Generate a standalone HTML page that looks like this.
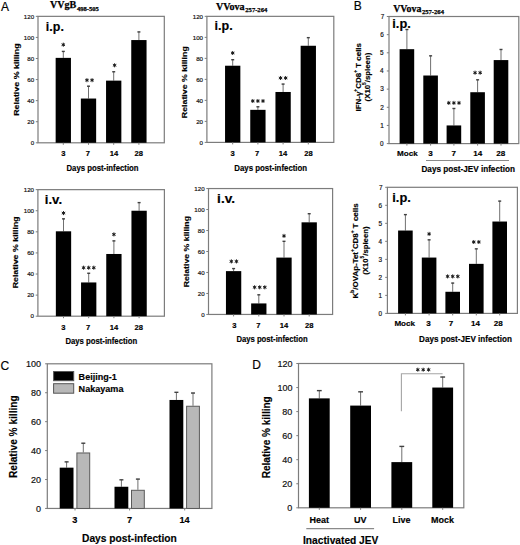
<!DOCTYPE html><html><head><meta charset="utf-8"><style>html,body{margin:0;padding:0;background:#fff;overflow:hidden;}svg{display:block;}</style></head><body><svg width="520" height="545" viewBox="0 0 520 545">
<rect width="520" height="545" fill="#fff"/>
<rect x="38.00" y="16.35" width="126.30" height="126.45" fill="none" stroke="#7c7c7c" stroke-width="1.2"/>
<line x1="35.80" y1="142.80" x2="38.00" y2="142.80" stroke="#7c7c7c" stroke-width="1"/>
<text x="30.71" y="145.02" font-size="6.2" font-weight="normal" fill="#111" font-family='"Liberation Sans", sans-serif' stroke="#111" stroke-width="0.18">0</text>
<line x1="35.80" y1="121.73" x2="38.00" y2="121.73" stroke="#7c7c7c" stroke-width="1"/>
<text x="27.27" y="123.94" font-size="6.2" font-weight="normal" fill="#111" font-family='"Liberation Sans", sans-serif' stroke="#111" stroke-width="0.18">20</text>
<line x1="35.80" y1="100.65" x2="38.00" y2="100.65" stroke="#7c7c7c" stroke-width="1"/>
<text x="27.27" y="102.87" font-size="6.2" font-weight="normal" fill="#111" font-family='"Liberation Sans", sans-serif' stroke="#111" stroke-width="0.18">40</text>
<line x1="35.80" y1="79.58" x2="38.00" y2="79.58" stroke="#7c7c7c" stroke-width="1"/>
<text x="27.27" y="81.79" font-size="6.2" font-weight="normal" fill="#111" font-family='"Liberation Sans", sans-serif' stroke="#111" stroke-width="0.18">60</text>
<line x1="35.80" y1="58.50" x2="38.00" y2="58.50" stroke="#7c7c7c" stroke-width="1"/>
<text x="27.27" y="60.72" font-size="6.2" font-weight="normal" fill="#111" font-family='"Liberation Sans", sans-serif' stroke="#111" stroke-width="0.18">80</text>
<line x1="35.80" y1="37.42" x2="38.00" y2="37.42" stroke="#7c7c7c" stroke-width="1"/>
<text x="23.82" y="39.64" font-size="6.2" font-weight="normal" fill="#111" font-family='"Liberation Sans", sans-serif' stroke="#111" stroke-width="0.18">100</text>
<line x1="35.80" y1="16.35" x2="38.00" y2="16.35" stroke="#7c7c7c" stroke-width="1"/>
<text x="23.82" y="18.57" font-size="6.2" font-weight="normal" fill="#111" font-family='"Liberation Sans", sans-serif' stroke="#111" stroke-width="0.18">120</text>
<line x1="63.30" y1="51.12" x2="63.30" y2="57.87" stroke="#707070" stroke-width="1.0"/>
<line x1="61.80" y1="51.42" x2="64.80" y2="51.42" stroke="#404040" stroke-width="1.4"/>
<rect x="55.65" y="57.87" width="15.30" height="84.93" fill="#000"/>
<path d="M63.30,43.08L63.30,46.32M61.90,43.89L64.70,45.51M61.90,45.51L64.70,43.89" stroke="#1e1e1e" stroke-width="1.0" stroke-linecap="round"/>
<circle cx="63.30" cy="44.70" r="0.99" fill="#1e1e1e"/>
<line x1="88.50" y1="85.90" x2="88.50" y2="98.54" stroke="#707070" stroke-width="1.0"/>
<line x1="87.00" y1="86.20" x2="90.00" y2="86.20" stroke="#404040" stroke-width="1.4"/>
<rect x="80.85" y="98.54" width="15.30" height="44.26" fill="#000"/>
<path d="M86.95,78.58L86.95,81.82M85.55,79.39L88.35,81.01M85.55,81.01L88.35,79.39" stroke="#1e1e1e" stroke-width="1.0" stroke-linecap="round"/>
<circle cx="86.95" cy="80.20" r="0.99" fill="#1e1e1e"/>
<path d="M92.05,78.58L92.05,81.82M90.65,79.39L93.45,81.01M90.65,81.01L93.45,79.39" stroke="#1e1e1e" stroke-width="1.0" stroke-linecap="round"/>
<circle cx="92.05" cy="80.20" r="0.99" fill="#1e1e1e"/>
<line x1="113.70" y1="71.46" x2="113.70" y2="80.63" stroke="#707070" stroke-width="1.0"/>
<line x1="112.20" y1="71.76" x2="115.20" y2="71.76" stroke="#404040" stroke-width="1.4"/>
<rect x="106.05" y="80.63" width="15.30" height="62.17" fill="#000"/>
<path d="M114.60,63.68L114.60,66.92M113.20,64.49L116.00,66.11M113.20,66.11L116.00,64.49" stroke="#1e1e1e" stroke-width="1.0" stroke-linecap="round"/>
<circle cx="114.60" cy="65.30" r="0.99" fill="#1e1e1e"/>
<line x1="138.90" y1="31.63" x2="138.90" y2="40.06" stroke="#707070" stroke-width="1.0"/>
<line x1="137.40" y1="31.93" x2="140.40" y2="31.93" stroke="#404040" stroke-width="1.4"/>
<rect x="131.25" y="40.06" width="15.30" height="102.74" fill="#000"/>
<line x1="63.30" y1="142.80" x2="63.30" y2="144.80" stroke="#7c7c7c" stroke-width="1"/>
<line x1="88.50" y1="142.80" x2="88.50" y2="144.80" stroke="#7c7c7c" stroke-width="1"/>
<line x1="113.70" y1="142.80" x2="113.70" y2="144.80" stroke="#7c7c7c" stroke-width="1"/>
<line x1="138.90" y1="142.80" x2="138.90" y2="144.80" stroke="#7c7c7c" stroke-width="1"/>
<text x="61.18" y="156.20" font-size="7.6" font-weight="bold" fill="#000" font-family='"Liberation Sans", sans-serif' stroke="#000" stroke-width="0.16">3</text>
<text x="85.85" y="156.20" font-size="7.6" font-weight="bold" fill="#000" font-family='"Liberation Sans", sans-serif' stroke="#000" stroke-width="0.16">7</text>
<text x="109.70" y="156.20" font-size="7.6" font-weight="bold" fill="#000" font-family='"Liberation Sans", sans-serif' stroke="#000" stroke-width="0.16">14</text>
<text x="134.46" y="156.20" font-size="7.6" font-weight="bold" fill="#000" font-family='"Liberation Sans", sans-serif' stroke="#000" stroke-width="0.16">28</text>
<text x="66.50" y="170.50" font-size="8.3" font-weight="bold" fill="#000" font-family='"Liberation Sans", sans-serif' textLength="72.06" lengthAdjust="spacingAndGlyphs" stroke="#000" stroke-width="0.16">Days post-infection</text>
<text x="0" y="0" transform="translate(19.00,115.78) rotate(-90)" font-size="8.0" font-weight="bold" font-family='"Liberation Sans", sans-serif' textLength="72.35" lengthAdjust="spacingAndGlyphs" stroke="#000" stroke-width="0.16">Relative % killing</text>
<text x="45.88" y="30.75" font-size="12.4" font-weight="bold" fill="#000" font-family='"Liberation Sans", sans-serif' textLength="17.98" lengthAdjust="spacingAndGlyphs" stroke="#000" stroke-width="0.16">i.p.</text>
<rect x="206.90" y="16.35" width="126.90" height="126.05" fill="none" stroke="#7c7c7c" stroke-width="1.2"/>
<line x1="204.70" y1="142.40" x2="206.90" y2="142.40" stroke="#7c7c7c" stroke-width="1"/>
<text x="199.61" y="144.62" font-size="6.2" font-weight="normal" fill="#111" font-family='"Liberation Sans", sans-serif' stroke="#111" stroke-width="0.18">0</text>
<line x1="204.70" y1="121.39" x2="206.90" y2="121.39" stroke="#7c7c7c" stroke-width="1"/>
<text x="196.17" y="123.61" font-size="6.2" font-weight="normal" fill="#111" font-family='"Liberation Sans", sans-serif' stroke="#111" stroke-width="0.18">20</text>
<line x1="204.70" y1="100.38" x2="206.90" y2="100.38" stroke="#7c7c7c" stroke-width="1"/>
<text x="196.17" y="102.60" font-size="6.2" font-weight="normal" fill="#111" font-family='"Liberation Sans", sans-serif' stroke="#111" stroke-width="0.18">40</text>
<line x1="204.70" y1="79.38" x2="206.90" y2="79.38" stroke="#7c7c7c" stroke-width="1"/>
<text x="196.17" y="81.59" font-size="6.2" font-weight="normal" fill="#111" font-family='"Liberation Sans", sans-serif' stroke="#111" stroke-width="0.18">60</text>
<line x1="204.70" y1="58.37" x2="206.90" y2="58.37" stroke="#7c7c7c" stroke-width="1"/>
<text x="196.17" y="60.59" font-size="6.2" font-weight="normal" fill="#111" font-family='"Liberation Sans", sans-serif' stroke="#111" stroke-width="0.18">80</text>
<line x1="204.70" y1="37.36" x2="206.90" y2="37.36" stroke="#7c7c7c" stroke-width="1"/>
<text x="192.72" y="39.58" font-size="6.2" font-weight="normal" fill="#111" font-family='"Liberation Sans", sans-serif' stroke="#111" stroke-width="0.18">100</text>
<line x1="204.70" y1="16.35" x2="206.90" y2="16.35" stroke="#7c7c7c" stroke-width="1"/>
<text x="192.72" y="18.57" font-size="6.2" font-weight="normal" fill="#111" font-family='"Liberation Sans", sans-serif' stroke="#111" stroke-width="0.18">120</text>
<line x1="232.70" y1="59.42" x2="232.70" y2="65.72" stroke="#707070" stroke-width="1.0"/>
<line x1="231.20" y1="59.72" x2="234.20" y2="59.72" stroke="#404040" stroke-width="1.4"/>
<rect x="225.05" y="65.72" width="15.30" height="76.68" fill="#000"/>
<path d="M232.70,51.38L232.70,54.62M231.30,52.19L234.10,53.81M231.30,53.81L234.10,52.19" stroke="#1e1e1e" stroke-width="1.0" stroke-linecap="round"/>
<circle cx="232.70" cy="53.00" r="0.99" fill="#1e1e1e"/>
<line x1="257.90" y1="106.48" x2="257.90" y2="109.84" stroke="#707070" stroke-width="1.0"/>
<line x1="256.40" y1="106.78" x2="259.40" y2="106.78" stroke="#404040" stroke-width="1.4"/>
<rect x="250.25" y="109.84" width="15.30" height="32.56" fill="#000"/>
<path d="M252.80,99.38L252.80,102.62M251.40,100.19L254.20,101.81M251.40,101.81L254.20,100.19" stroke="#1e1e1e" stroke-width="1.0" stroke-linecap="round"/>
<circle cx="252.80" cy="101.00" r="0.99" fill="#1e1e1e"/>
<path d="M257.90,99.38L257.90,102.62M256.50,100.19L259.30,101.81M256.50,101.81L259.30,100.19" stroke="#1e1e1e" stroke-width="1.0" stroke-linecap="round"/>
<circle cx="257.90" cy="101.00" r="0.99" fill="#1e1e1e"/>
<path d="M263.00,99.38L263.00,102.62M261.60,100.19L264.40,101.81M261.60,101.81L264.40,100.19" stroke="#1e1e1e" stroke-width="1.0" stroke-linecap="round"/>
<circle cx="263.00" cy="101.00" r="0.99" fill="#1e1e1e"/>
<line x1="283.10" y1="83.79" x2="283.10" y2="91.98" stroke="#707070" stroke-width="1.0"/>
<line x1="281.60" y1="84.09" x2="284.60" y2="84.09" stroke="#404040" stroke-width="1.4"/>
<rect x="275.45" y="91.98" width="15.30" height="50.42" fill="#000"/>
<path d="M280.55,76.38L280.55,79.62M279.15,77.19L281.95,78.81M279.15,78.81L281.95,77.19" stroke="#1e1e1e" stroke-width="1.0" stroke-linecap="round"/>
<circle cx="280.55" cy="78.00" r="0.99" fill="#1e1e1e"/>
<path d="M285.65,76.38L285.65,79.62M284.25,77.19L287.05,78.81M284.25,78.81L287.05,77.19" stroke="#1e1e1e" stroke-width="1.0" stroke-linecap="round"/>
<circle cx="285.65" cy="78.00" r="0.99" fill="#1e1e1e"/>
<line x1="308.30" y1="37.36" x2="308.30" y2="45.76" stroke="#707070" stroke-width="1.0"/>
<line x1="306.80" y1="37.66" x2="309.80" y2="37.66" stroke="#404040" stroke-width="1.4"/>
<rect x="300.65" y="45.76" width="15.30" height="96.64" fill="#000"/>
<line x1="232.70" y1="142.40" x2="232.70" y2="144.40" stroke="#7c7c7c" stroke-width="1"/>
<line x1="257.90" y1="142.40" x2="257.90" y2="144.40" stroke="#7c7c7c" stroke-width="1"/>
<line x1="283.10" y1="142.40" x2="283.10" y2="144.40" stroke="#7c7c7c" stroke-width="1"/>
<line x1="308.30" y1="142.40" x2="308.30" y2="144.40" stroke="#7c7c7c" stroke-width="1"/>
<text x="230.43" y="156.00" font-size="7.6" font-weight="bold" fill="#000" font-family='"Liberation Sans", sans-serif' stroke="#000" stroke-width="0.16">3</text>
<text x="255.10" y="156.00" font-size="7.6" font-weight="bold" fill="#000" font-family='"Liberation Sans", sans-serif' stroke="#000" stroke-width="0.16">7</text>
<text x="278.80" y="156.00" font-size="7.6" font-weight="bold" fill="#000" font-family='"Liberation Sans", sans-serif' stroke="#000" stroke-width="0.16">14</text>
<text x="304.26" y="156.00" font-size="7.6" font-weight="bold" fill="#000" font-family='"Liberation Sans", sans-serif' stroke="#000" stroke-width="0.16">28</text>
<text x="234.29" y="170.60" font-size="8.3" font-weight="bold" fill="#000" font-family='"Liberation Sans", sans-serif' textLength="72.87" lengthAdjust="spacingAndGlyphs" stroke="#000" stroke-width="0.16">Days post-infection</text>
<text x="0" y="0" transform="translate(186.60,118.17) rotate(-90)" font-size="8.0" font-weight="bold" font-family='"Liberation Sans", sans-serif' textLength="71.94" lengthAdjust="spacingAndGlyphs" stroke="#000" stroke-width="0.16">Relative % killing</text>
<text x="214.62" y="30.40" font-size="12.4" font-weight="bold" fill="#000" font-family='"Liberation Sans", sans-serif' textLength="18.15" lengthAdjust="spacingAndGlyphs" stroke="#000" stroke-width="0.16">i.p.</text>
<rect x="37.90" y="189.65" width="126.50" height="126.55" fill="none" stroke="#7c7c7c" stroke-width="1.2"/>
<line x1="35.70" y1="316.20" x2="37.90" y2="316.20" stroke="#7c7c7c" stroke-width="1"/>
<text x="30.61" y="318.42" font-size="6.2" font-weight="normal" fill="#111" font-family='"Liberation Sans", sans-serif' stroke="#111" stroke-width="0.18">0</text>
<line x1="35.70" y1="295.11" x2="37.90" y2="295.11" stroke="#7c7c7c" stroke-width="1"/>
<text x="27.17" y="297.33" font-size="6.2" font-weight="normal" fill="#111" font-family='"Liberation Sans", sans-serif' stroke="#111" stroke-width="0.18">20</text>
<line x1="35.70" y1="274.02" x2="37.90" y2="274.02" stroke="#7c7c7c" stroke-width="1"/>
<text x="27.17" y="276.24" font-size="6.2" font-weight="normal" fill="#111" font-family='"Liberation Sans", sans-serif' stroke="#111" stroke-width="0.18">40</text>
<line x1="35.70" y1="252.93" x2="37.90" y2="252.93" stroke="#7c7c7c" stroke-width="1"/>
<text x="27.17" y="255.14" font-size="6.2" font-weight="normal" fill="#111" font-family='"Liberation Sans", sans-serif' stroke="#111" stroke-width="0.18">60</text>
<line x1="35.70" y1="231.83" x2="37.90" y2="231.83" stroke="#7c7c7c" stroke-width="1"/>
<text x="27.17" y="234.05" font-size="6.2" font-weight="normal" fill="#111" font-family='"Liberation Sans", sans-serif' stroke="#111" stroke-width="0.18">80</text>
<line x1="35.70" y1="210.74" x2="37.90" y2="210.74" stroke="#7c7c7c" stroke-width="1"/>
<text x="23.72" y="212.96" font-size="6.2" font-weight="normal" fill="#111" font-family='"Liberation Sans", sans-serif' stroke="#111" stroke-width="0.18">100</text>
<line x1="35.70" y1="189.65" x2="37.90" y2="189.65" stroke="#7c7c7c" stroke-width="1"/>
<text x="23.72" y="191.87" font-size="6.2" font-weight="normal" fill="#111" font-family='"Liberation Sans", sans-serif' stroke="#111" stroke-width="0.18">120</text>
<line x1="63.50" y1="218.55" x2="63.50" y2="231.31" stroke="#707070" stroke-width="1.0"/>
<line x1="62.00" y1="218.85" x2="65.00" y2="218.85" stroke="#404040" stroke-width="1.4"/>
<rect x="55.85" y="231.31" width="15.30" height="84.89" fill="#000"/>
<path d="M63.50,211.48L63.50,214.72M62.10,212.29L64.90,213.91M62.10,213.91L64.90,212.29" stroke="#1e1e1e" stroke-width="1.0" stroke-linecap="round"/>
<circle cx="63.50" cy="213.10" r="0.99" fill="#1e1e1e"/>
<line x1="88.70" y1="272.96" x2="88.70" y2="282.45" stroke="#707070" stroke-width="1.0"/>
<line x1="87.20" y1="273.26" x2="90.20" y2="273.26" stroke="#404040" stroke-width="1.4"/>
<rect x="81.05" y="282.45" width="15.30" height="33.75" fill="#000"/>
<path d="M83.60,266.08L83.60,269.32M82.20,266.89L85.00,268.51M82.20,268.51L85.00,266.89" stroke="#1e1e1e" stroke-width="1.0" stroke-linecap="round"/>
<circle cx="83.60" cy="267.70" r="0.99" fill="#1e1e1e"/>
<path d="M88.70,266.08L88.70,269.32M87.30,266.89L90.10,268.51M87.30,268.51L90.10,266.89" stroke="#1e1e1e" stroke-width="1.0" stroke-linecap="round"/>
<circle cx="88.70" cy="267.70" r="0.99" fill="#1e1e1e"/>
<path d="M93.80,266.08L93.80,269.32M92.40,266.89L95.20,268.51M92.40,268.51L95.20,266.89" stroke="#1e1e1e" stroke-width="1.0" stroke-linecap="round"/>
<circle cx="93.80" cy="267.70" r="0.99" fill="#1e1e1e"/>
<line x1="113.90" y1="240.59" x2="113.90" y2="253.98" stroke="#707070" stroke-width="1.0"/>
<line x1="112.40" y1="240.89" x2="115.40" y2="240.89" stroke="#404040" stroke-width="1.4"/>
<rect x="106.25" y="253.98" width="15.30" height="62.22" fill="#000"/>
<path d="M113.90,232.78L113.90,236.02M112.50,233.59L115.30,235.21M112.50,235.21L115.30,233.59" stroke="#1e1e1e" stroke-width="1.0" stroke-linecap="round"/>
<circle cx="113.90" cy="234.40" r="0.99" fill="#1e1e1e"/>
<line x1="139.10" y1="202.31" x2="139.10" y2="210.74" stroke="#707070" stroke-width="1.0"/>
<line x1="137.60" y1="202.61" x2="140.60" y2="202.61" stroke="#404040" stroke-width="1.4"/>
<rect x="131.45" y="210.74" width="15.30" height="105.46" fill="#000"/>
<line x1="63.50" y1="316.20" x2="63.50" y2="318.20" stroke="#7c7c7c" stroke-width="1"/>
<line x1="88.70" y1="316.20" x2="88.70" y2="318.20" stroke="#7c7c7c" stroke-width="1"/>
<line x1="113.90" y1="316.20" x2="113.90" y2="318.20" stroke="#7c7c7c" stroke-width="1"/>
<line x1="139.10" y1="316.20" x2="139.10" y2="318.20" stroke="#7c7c7c" stroke-width="1"/>
<text x="61.33" y="329.60" font-size="7.6" font-weight="bold" fill="#000" font-family='"Liberation Sans", sans-serif' stroke="#000" stroke-width="0.16">3</text>
<text x="86.10" y="329.60" font-size="7.6" font-weight="bold" fill="#000" font-family='"Liberation Sans", sans-serif' stroke="#000" stroke-width="0.16">7</text>
<text x="109.75" y="329.60" font-size="7.6" font-weight="bold" fill="#000" font-family='"Liberation Sans", sans-serif' stroke="#000" stroke-width="0.16">14</text>
<text x="134.41" y="329.60" font-size="7.6" font-weight="bold" fill="#000" font-family='"Liberation Sans", sans-serif' stroke="#000" stroke-width="0.16">28</text>
<text x="65.40" y="344.20" font-size="8.3" font-weight="bold" fill="#000" font-family='"Liberation Sans", sans-serif' textLength="71.76" lengthAdjust="spacingAndGlyphs" stroke="#000" stroke-width="0.16">Days post-infection</text>
<text x="0" y="0" transform="translate(18.30,288.37) rotate(-90)" font-size="8.0" font-weight="bold" font-family='"Liberation Sans", sans-serif' textLength="72.14" lengthAdjust="spacingAndGlyphs" stroke="#000" stroke-width="0.16">Relative % killing</text>
<text x="44.83" y="203.50" font-size="12.4" font-weight="bold" fill="#000" font-family='"Liberation Sans", sans-serif' textLength="17.28" lengthAdjust="spacingAndGlyphs" stroke="#000" stroke-width="0.16">i.v.</text>
<rect x="208.50" y="188.55" width="124.10" height="125.90" fill="none" stroke="#7c7c7c" stroke-width="1.2"/>
<line x1="206.30" y1="314.45" x2="208.50" y2="314.45" stroke="#7c7c7c" stroke-width="1"/>
<text x="201.21" y="316.67" font-size="6.2" font-weight="normal" fill="#111" font-family='"Liberation Sans", sans-serif' stroke="#111" stroke-width="0.18">0</text>
<line x1="206.30" y1="293.47" x2="208.50" y2="293.47" stroke="#7c7c7c" stroke-width="1"/>
<text x="197.77" y="295.69" font-size="6.2" font-weight="normal" fill="#111" font-family='"Liberation Sans", sans-serif' stroke="#111" stroke-width="0.18">20</text>
<line x1="206.30" y1="272.48" x2="208.50" y2="272.48" stroke="#7c7c7c" stroke-width="1"/>
<text x="197.77" y="274.70" font-size="6.2" font-weight="normal" fill="#111" font-family='"Liberation Sans", sans-serif' stroke="#111" stroke-width="0.18">40</text>
<line x1="206.30" y1="251.50" x2="208.50" y2="251.50" stroke="#7c7c7c" stroke-width="1"/>
<text x="197.77" y="253.72" font-size="6.2" font-weight="normal" fill="#111" font-family='"Liberation Sans", sans-serif' stroke="#111" stroke-width="0.18">60</text>
<line x1="206.30" y1="230.52" x2="208.50" y2="230.52" stroke="#7c7c7c" stroke-width="1"/>
<text x="197.77" y="232.74" font-size="6.2" font-weight="normal" fill="#111" font-family='"Liberation Sans", sans-serif' stroke="#111" stroke-width="0.18">80</text>
<line x1="206.30" y1="209.53" x2="208.50" y2="209.53" stroke="#7c7c7c" stroke-width="1"/>
<text x="194.32" y="211.75" font-size="6.2" font-weight="normal" fill="#111" font-family='"Liberation Sans", sans-serif' stroke="#111" stroke-width="0.18">100</text>
<line x1="206.30" y1="188.55" x2="208.50" y2="188.55" stroke="#7c7c7c" stroke-width="1"/>
<text x="194.32" y="190.77" font-size="6.2" font-weight="normal" fill="#111" font-family='"Liberation Sans", sans-serif' stroke="#111" stroke-width="0.18">120</text>
<line x1="233.60" y1="268.29" x2="233.60" y2="271.12" stroke="#707070" stroke-width="1.0"/>
<line x1="232.10" y1="268.59" x2="235.10" y2="268.59" stroke="#404040" stroke-width="1.4"/>
<rect x="225.95" y="271.12" width="15.30" height="43.33" fill="#000"/>
<path d="M231.35,259.78L231.35,263.02M229.95,260.59L232.75,262.21M229.95,262.21L232.75,260.59" stroke="#1e1e1e" stroke-width="1.0" stroke-linecap="round"/>
<circle cx="231.35" cy="261.40" r="0.99" fill="#1e1e1e"/>
<path d="M236.45,259.78L236.45,263.02M235.05,260.59L237.85,262.21M235.05,262.21L237.85,260.59" stroke="#1e1e1e" stroke-width="1.0" stroke-linecap="round"/>
<circle cx="236.45" cy="261.40" r="0.99" fill="#1e1e1e"/>
<line x1="258.80" y1="294.52" x2="258.80" y2="303.43" stroke="#707070" stroke-width="1.0"/>
<line x1="257.30" y1="294.82" x2="260.30" y2="294.82" stroke="#404040" stroke-width="1.4"/>
<rect x="251.15" y="303.43" width="15.30" height="11.02" fill="#000"/>
<path d="M254.60,285.68L254.60,288.92M253.20,286.49L256.00,288.11M253.20,288.11L256.00,286.49" stroke="#1e1e1e" stroke-width="1.0" stroke-linecap="round"/>
<circle cx="254.60" cy="287.30" r="0.99" fill="#1e1e1e"/>
<path d="M259.70,285.68L259.70,288.92M258.30,286.49L261.10,288.11M258.30,288.11L261.10,286.49" stroke="#1e1e1e" stroke-width="1.0" stroke-linecap="round"/>
<circle cx="259.70" cy="287.30" r="0.99" fill="#1e1e1e"/>
<path d="M264.80,285.68L264.80,288.92M263.40,286.49L266.20,288.11M263.40,288.11L266.20,286.49" stroke="#1e1e1e" stroke-width="1.0" stroke-linecap="round"/>
<circle cx="264.80" cy="287.30" r="0.99" fill="#1e1e1e"/>
<line x1="284.00" y1="241.01" x2="284.00" y2="257.59" stroke="#707070" stroke-width="1.0"/>
<line x1="282.50" y1="241.31" x2="285.50" y2="241.31" stroke="#404040" stroke-width="1.4"/>
<rect x="276.35" y="257.59" width="15.30" height="56.86" fill="#000"/>
<path d="M284.00,234.28L284.00,237.52M282.60,235.09L285.40,236.71M282.60,236.71L285.40,235.09" stroke="#1e1e1e" stroke-width="1.0" stroke-linecap="round"/>
<circle cx="284.00" cy="235.90" r="0.99" fill="#1e1e1e"/>
<line x1="309.20" y1="213.42" x2="309.20" y2="222.33" stroke="#707070" stroke-width="1.0"/>
<line x1="307.70" y1="213.72" x2="310.70" y2="213.72" stroke="#404040" stroke-width="1.4"/>
<rect x="301.55" y="222.33" width="15.30" height="92.12" fill="#000"/>
<line x1="233.60" y1="314.45" x2="233.60" y2="316.45" stroke="#7c7c7c" stroke-width="1"/>
<line x1="258.80" y1="314.45" x2="258.80" y2="316.45" stroke="#7c7c7c" stroke-width="1"/>
<line x1="284.00" y1="314.45" x2="284.00" y2="316.45" stroke="#7c7c7c" stroke-width="1"/>
<line x1="309.20" y1="314.45" x2="309.20" y2="316.45" stroke="#7c7c7c" stroke-width="1"/>
<text x="232.23" y="327.50" font-size="7.6" font-weight="bold" fill="#000" font-family='"Liberation Sans", sans-serif' stroke="#000" stroke-width="0.16">3</text>
<text x="256.30" y="327.50" font-size="7.6" font-weight="bold" fill="#000" font-family='"Liberation Sans", sans-serif' stroke="#000" stroke-width="0.16">7</text>
<text x="279.75" y="327.50" font-size="7.6" font-weight="bold" fill="#000" font-family='"Liberation Sans", sans-serif' stroke="#000" stroke-width="0.16">14</text>
<text x="304.96" y="327.50" font-size="7.6" font-weight="bold" fill="#000" font-family='"Liberation Sans", sans-serif' stroke="#000" stroke-width="0.16">28</text>
<text x="236.40" y="341.60" font-size="8.3" font-weight="bold" fill="#000" font-family='"Liberation Sans", sans-serif' textLength="71.25" lengthAdjust="spacingAndGlyphs" stroke="#000" stroke-width="0.16">Days post-infection</text>
<text x="0" y="0" transform="translate(188.50,287.37) rotate(-90)" font-size="8.0" font-weight="bold" font-family='"Liberation Sans", sans-serif' textLength="71.43" lengthAdjust="spacingAndGlyphs" stroke="#000" stroke-width="0.16">Relative % killing</text>
<text x="217.14" y="203.30" font-size="12.4" font-weight="bold" fill="#000" font-family='"Liberation Sans", sans-serif' textLength="17.95" lengthAdjust="spacingAndGlyphs" stroke="#000" stroke-width="0.16">i.v.</text>
<rect x="389.00" y="16.50" width="129.80" height="127.10" fill="none" stroke="#7c7c7c" stroke-width="1.2"/>
<line x1="386.80" y1="143.60" x2="389.00" y2="143.60" stroke="#7c7c7c" stroke-width="1"/>
<text x="380.10" y="145.89" font-size="6.4" font-weight="normal" fill="#111" font-family='"Liberation Sans", sans-serif' stroke="#111" stroke-width="0.18">0</text>
<line x1="386.80" y1="125.44" x2="389.00" y2="125.44" stroke="#7c7c7c" stroke-width="1"/>
<text x="380.17" y="127.73" font-size="6.4" font-weight="normal" fill="#111" font-family='"Liberation Sans", sans-serif' stroke="#111" stroke-width="0.18">1</text>
<line x1="386.80" y1="107.29" x2="389.00" y2="107.29" stroke="#7c7c7c" stroke-width="1"/>
<text x="380.17" y="109.58" font-size="6.4" font-weight="normal" fill="#111" font-family='"Liberation Sans", sans-serif' stroke="#111" stroke-width="0.18">2</text>
<line x1="386.80" y1="89.13" x2="389.00" y2="89.13" stroke="#7c7c7c" stroke-width="1"/>
<text x="380.14" y="91.42" font-size="6.4" font-weight="normal" fill="#111" font-family='"Liberation Sans", sans-serif' stroke="#111" stroke-width="0.18">3</text>
<line x1="386.80" y1="70.97" x2="389.00" y2="70.97" stroke="#7c7c7c" stroke-width="1"/>
<text x="380.04" y="73.26" font-size="6.4" font-weight="normal" fill="#111" font-family='"Liberation Sans", sans-serif' stroke="#111" stroke-width="0.18">4</text>
<line x1="386.80" y1="52.81" x2="389.00" y2="52.81" stroke="#7c7c7c" stroke-width="1"/>
<text x="380.10" y="55.11" font-size="6.4" font-weight="normal" fill="#111" font-family='"Liberation Sans", sans-serif' stroke="#111" stroke-width="0.18">5</text>
<line x1="386.80" y1="34.66" x2="389.00" y2="34.66" stroke="#7c7c7c" stroke-width="1"/>
<text x="380.14" y="36.95" font-size="6.4" font-weight="normal" fill="#111" font-family='"Liberation Sans", sans-serif' stroke="#111" stroke-width="0.18">6</text>
<line x1="386.80" y1="16.50" x2="389.00" y2="16.50" stroke="#7c7c7c" stroke-width="1"/>
<text x="380.65" y="18.79" font-size="6.4" font-weight="normal" fill="#111" font-family='"Liberation Sans", sans-serif' stroke="#111" stroke-width="0.18">7</text>
<line x1="406.90" y1="29.21" x2="406.90" y2="49.18" stroke="#707070" stroke-width="1.0"/>
<line x1="405.40" y1="29.51" x2="408.40" y2="29.51" stroke="#404040" stroke-width="1.4"/>
<rect x="399.60" y="49.18" width="14.60" height="94.42" fill="#000"/>
<line x1="430.60" y1="55.54" x2="430.60" y2="75.51" stroke="#707070" stroke-width="1.0"/>
<line x1="429.10" y1="55.84" x2="432.10" y2="55.84" stroke="#404040" stroke-width="1.4"/>
<rect x="423.30" y="75.51" width="14.60" height="68.09" fill="#000"/>
<line x1="453.90" y1="108.19" x2="453.90" y2="125.44" stroke="#707070" stroke-width="1.0"/>
<line x1="452.40" y1="108.49" x2="455.40" y2="108.49" stroke="#404040" stroke-width="1.4"/>
<rect x="446.60" y="125.44" width="14.60" height="18.16" fill="#000"/>
<path d="M448.80,101.28L448.80,104.52M447.40,102.09L450.20,103.71M447.40,103.71L450.20,102.09" stroke="#1e1e1e" stroke-width="1.0" stroke-linecap="round"/>
<circle cx="448.80" cy="102.90" r="0.99" fill="#1e1e1e"/>
<path d="M453.90,101.28L453.90,104.52M452.50,102.09L455.30,103.71M452.50,103.71L455.30,102.09" stroke="#1e1e1e" stroke-width="1.0" stroke-linecap="round"/>
<circle cx="453.90" cy="102.90" r="0.99" fill="#1e1e1e"/>
<path d="M459.00,101.28L459.00,104.52M457.60,102.09L460.40,103.71M457.60,103.71L460.40,102.09" stroke="#1e1e1e" stroke-width="1.0" stroke-linecap="round"/>
<circle cx="459.00" cy="102.90" r="0.99" fill="#1e1e1e"/>
<line x1="477.60" y1="79.51" x2="477.60" y2="92.22" stroke="#707070" stroke-width="1.0"/>
<line x1="476.10" y1="79.81" x2="479.10" y2="79.81" stroke="#404040" stroke-width="1.4"/>
<rect x="470.30" y="92.22" width="14.60" height="51.38" fill="#000"/>
<path d="M475.05,71.08L475.05,74.32M473.65,71.89L476.45,73.51M473.65,73.51L476.45,71.89" stroke="#1e1e1e" stroke-width="1.0" stroke-linecap="round"/>
<circle cx="475.05" cy="72.70" r="0.99" fill="#1e1e1e"/>
<path d="M480.15,71.08L480.15,74.32M478.75,71.89L481.55,73.51M478.75,73.51L481.55,71.89" stroke="#1e1e1e" stroke-width="1.0" stroke-linecap="round"/>
<circle cx="480.15" cy="72.70" r="0.99" fill="#1e1e1e"/>
<line x1="501.00" y1="49.18" x2="501.00" y2="60.08" stroke="#707070" stroke-width="1.0"/>
<line x1="499.50" y1="49.48" x2="502.50" y2="49.48" stroke="#404040" stroke-width="1.4"/>
<rect x="493.70" y="60.08" width="14.60" height="83.52" fill="#000"/>
<line x1="406.90" y1="143.60" x2="406.90" y2="145.60" stroke="#7c7c7c" stroke-width="1"/>
<line x1="430.60" y1="143.60" x2="430.60" y2="145.60" stroke="#7c7c7c" stroke-width="1"/>
<line x1="453.90" y1="143.60" x2="453.90" y2="145.60" stroke="#7c7c7c" stroke-width="1"/>
<line x1="477.60" y1="143.60" x2="477.60" y2="145.60" stroke="#7c7c7c" stroke-width="1"/>
<line x1="501.00" y1="143.60" x2="501.00" y2="145.60" stroke="#7c7c7c" stroke-width="1"/>
<text x="397.04" y="156.00" font-size="8.1" font-weight="bold" fill="#000" font-family='"Liberation Sans", sans-serif' stroke="#000" stroke-width="0.16">Mock</text>
<text x="428.34" y="156.00" font-size="8.1" font-weight="bold" fill="#000" font-family='"Liberation Sans", sans-serif' stroke="#000" stroke-width="0.16">3</text>
<text x="451.45" y="156.00" font-size="8.1" font-weight="bold" fill="#000" font-family='"Liberation Sans", sans-serif' stroke="#000" stroke-width="0.16">7</text>
<text x="473.36" y="156.00" font-size="8.1" font-weight="bold" fill="#000" font-family='"Liberation Sans", sans-serif' stroke="#000" stroke-width="0.16">14</text>
<text x="496.33" y="156.00" font-size="8.1" font-weight="bold" fill="#000" font-family='"Liberation Sans", sans-serif' stroke="#000" stroke-width="0.16">28</text>
<text x="421.47" y="172.00" font-size="8.2" font-weight="bold" fill="#000" font-family='"Liberation Sans", sans-serif' textLength="93.44" lengthAdjust="spacingAndGlyphs" stroke="#000" stroke-width="0.16">Days post-JEV infection</text>
<line x1="426.00" y1="160.50" x2="509.00" y2="160.50" stroke="#8a8a8a" stroke-width="1.1"/>
<text x="392.30" y="27.80" font-size="12.4" font-weight="bold" fill="#000" font-family='"Liberation Sans", sans-serif' textLength="18.48" lengthAdjust="spacingAndGlyphs" stroke="#000" stroke-width="0.16">i.p.</text>
<rect x="387.40" y="187.30" width="130.00" height="126.10" fill="none" stroke="#7c7c7c" stroke-width="1.2"/>
<line x1="385.20" y1="313.40" x2="387.40" y2="313.40" stroke="#7c7c7c" stroke-width="1"/>
<text x="378.50" y="315.69" font-size="6.4" font-weight="normal" fill="#111" font-family='"Liberation Sans", sans-serif' stroke="#111" stroke-width="0.18">0</text>
<line x1="385.20" y1="295.39" x2="387.40" y2="295.39" stroke="#7c7c7c" stroke-width="1"/>
<text x="378.57" y="297.68" font-size="6.4" font-weight="normal" fill="#111" font-family='"Liberation Sans", sans-serif' stroke="#111" stroke-width="0.18">1</text>
<line x1="385.20" y1="277.37" x2="387.40" y2="277.37" stroke="#7c7c7c" stroke-width="1"/>
<text x="378.57" y="279.66" font-size="6.4" font-weight="normal" fill="#111" font-family='"Liberation Sans", sans-serif' stroke="#111" stroke-width="0.18">2</text>
<line x1="385.20" y1="259.36" x2="387.40" y2="259.36" stroke="#7c7c7c" stroke-width="1"/>
<text x="378.54" y="261.65" font-size="6.4" font-weight="normal" fill="#111" font-family='"Liberation Sans", sans-serif' stroke="#111" stroke-width="0.18">3</text>
<line x1="385.20" y1="241.34" x2="387.40" y2="241.34" stroke="#7c7c7c" stroke-width="1"/>
<text x="378.44" y="243.63" font-size="6.4" font-weight="normal" fill="#111" font-family='"Liberation Sans", sans-serif' stroke="#111" stroke-width="0.18">4</text>
<line x1="385.20" y1="223.33" x2="387.40" y2="223.33" stroke="#7c7c7c" stroke-width="1"/>
<text x="378.50" y="225.62" font-size="6.4" font-weight="normal" fill="#111" font-family='"Liberation Sans", sans-serif' stroke="#111" stroke-width="0.18">5</text>
<line x1="385.20" y1="205.31" x2="387.40" y2="205.31" stroke="#7c7c7c" stroke-width="1"/>
<text x="378.54" y="207.61" font-size="6.4" font-weight="normal" fill="#111" font-family='"Liberation Sans", sans-serif' stroke="#111" stroke-width="0.18">6</text>
<line x1="385.20" y1="187.30" x2="387.40" y2="187.30" stroke="#7c7c7c" stroke-width="1"/>
<text x="379.05" y="189.59" font-size="6.4" font-weight="normal" fill="#111" font-family='"Liberation Sans", sans-serif' stroke="#111" stroke-width="0.18">7</text>
<line x1="405.40" y1="214.32" x2="405.40" y2="230.53" stroke="#707070" stroke-width="1.0"/>
<line x1="403.90" y1="214.62" x2="406.90" y2="214.62" stroke="#404040" stroke-width="1.4"/>
<rect x="398.10" y="230.53" width="14.60" height="82.87" fill="#000"/>
<line x1="429.10" y1="239.54" x2="429.10" y2="257.56" stroke="#707070" stroke-width="1.0"/>
<line x1="427.60" y1="239.84" x2="430.60" y2="239.84" stroke="#404040" stroke-width="1.4"/>
<rect x="421.80" y="257.56" width="14.60" height="55.84" fill="#000"/>
<path d="M429.10,232.28L429.10,235.52M427.70,233.09L430.50,234.71M427.70,234.71L430.50,233.09" stroke="#1e1e1e" stroke-width="1.0" stroke-linecap="round"/>
<circle cx="429.10" cy="233.90" r="0.99" fill="#1e1e1e"/>
<line x1="452.70" y1="282.78" x2="452.70" y2="291.78" stroke="#707070" stroke-width="1.0"/>
<line x1="451.20" y1="283.08" x2="454.20" y2="283.08" stroke="#404040" stroke-width="1.4"/>
<rect x="445.40" y="291.78" width="14.60" height="21.62" fill="#000"/>
<path d="M447.60,274.78L447.60,278.02M446.20,275.59L449.00,277.21M446.20,277.21L449.00,275.59" stroke="#1e1e1e" stroke-width="1.0" stroke-linecap="round"/>
<circle cx="447.60" cy="276.40" r="0.99" fill="#1e1e1e"/>
<path d="M452.70,274.78L452.70,278.02M451.30,275.59L454.10,277.21M451.30,277.21L454.10,275.59" stroke="#1e1e1e" stroke-width="1.0" stroke-linecap="round"/>
<circle cx="452.70" cy="276.40" r="0.99" fill="#1e1e1e"/>
<path d="M457.80,274.78L457.80,278.02M456.40,275.59L459.20,277.21M456.40,277.21L459.20,275.59" stroke="#1e1e1e" stroke-width="1.0" stroke-linecap="round"/>
<circle cx="457.80" cy="276.40" r="0.99" fill="#1e1e1e"/>
<line x1="476.30" y1="248.55" x2="476.30" y2="263.86" stroke="#707070" stroke-width="1.0"/>
<line x1="474.80" y1="248.85" x2="477.80" y2="248.85" stroke="#404040" stroke-width="1.4"/>
<rect x="469.00" y="263.86" width="14.60" height="49.54" fill="#000"/>
<path d="M473.75,240.38L473.75,243.62M472.35,241.19L475.15,242.81M472.35,242.81L475.15,241.19" stroke="#1e1e1e" stroke-width="1.0" stroke-linecap="round"/>
<circle cx="473.75" cy="242.00" r="0.99" fill="#1e1e1e"/>
<path d="M478.85,240.38L478.85,243.62M477.45,241.19L480.25,242.81M477.45,242.81L480.25,241.19" stroke="#1e1e1e" stroke-width="1.0" stroke-linecap="round"/>
<circle cx="478.85" cy="242.00" r="0.99" fill="#1e1e1e"/>
<line x1="499.70" y1="200.81" x2="499.70" y2="221.53" stroke="#707070" stroke-width="1.0"/>
<line x1="498.20" y1="201.11" x2="501.20" y2="201.11" stroke="#404040" stroke-width="1.4"/>
<rect x="492.40" y="221.53" width="14.60" height="91.87" fill="#000"/>
<line x1="405.40" y1="313.40" x2="405.40" y2="315.40" stroke="#7c7c7c" stroke-width="1"/>
<line x1="429.10" y1="313.40" x2="429.10" y2="315.40" stroke="#7c7c7c" stroke-width="1"/>
<line x1="452.70" y1="313.40" x2="452.70" y2="315.40" stroke="#7c7c7c" stroke-width="1"/>
<line x1="476.30" y1="313.40" x2="476.30" y2="315.40" stroke="#7c7c7c" stroke-width="1"/>
<line x1="499.70" y1="313.40" x2="499.70" y2="315.40" stroke="#7c7c7c" stroke-width="1"/>
<text x="394.39" y="326.00" font-size="8.1" font-weight="bold" fill="#000" font-family='"Liberation Sans", sans-serif' stroke="#000" stroke-width="0.16">Mock</text>
<text x="426.34" y="326.00" font-size="8.1" font-weight="bold" fill="#000" font-family='"Liberation Sans", sans-serif' stroke="#000" stroke-width="0.16">3</text>
<text x="448.85" y="326.00" font-size="8.1" font-weight="bold" fill="#000" font-family='"Liberation Sans", sans-serif' stroke="#000" stroke-width="0.16">7</text>
<text x="471.11" y="326.00" font-size="8.1" font-weight="bold" fill="#000" font-family='"Liberation Sans", sans-serif' stroke="#000" stroke-width="0.16">14</text>
<text x="493.83" y="326.00" font-size="8.1" font-weight="bold" fill="#000" font-family='"Liberation Sans", sans-serif' stroke="#000" stroke-width="0.16">28</text>
<text x="419.07" y="341.50" font-size="8.2" font-weight="bold" fill="#000" font-family='"Liberation Sans", sans-serif' textLength="92.83" lengthAdjust="spacingAndGlyphs" stroke="#000" stroke-width="0.16">Days post-JEV infection</text>
<text x="392.30" y="201.60" font-size="12.4" font-weight="bold" fill="#000" font-family='"Liberation Sans", sans-serif' textLength="18.59" lengthAdjust="spacingAndGlyphs" stroke="#000" stroke-width="0.16">i.p.</text>
<text x="0" y="0" transform="translate(360.70,77.25) rotate(-90)" font-size="7.9" font-weight="bold" font-family='"Liberation Sans", sans-serif' text-anchor="middle" textLength="68.50" lengthAdjust="spacingAndGlyphs" stroke="#000" stroke-width="0.16"><tspan dy="0.00">IFN-&#947;</tspan><tspan dy="-3.63" font-size="4.90">+</tspan><tspan dy="3.63">CD8</tspan><tspan dy="-3.63" font-size="4.90">+</tspan><tspan dy="3.63"> T cells</tspan></text>
<text x="0" y="0" transform="translate(369.50,77.05) rotate(-90)" font-size="7.9" font-weight="bold" font-family='"Liberation Sans", sans-serif' text-anchor="middle" textLength="48.80" lengthAdjust="spacingAndGlyphs" stroke="#000" stroke-width="0.16"><tspan dy="0.00">(X10</tspan><tspan dy="-3.63" font-size="4.90">5</tspan><tspan dy="3.63">/spleen)</tspan></text>
<text x="0" y="0" transform="translate(358.00,250.90) rotate(-90)" font-size="7.9" font-weight="bold" font-family='"Liberation Sans", sans-serif' text-anchor="middle" textLength="95.00" lengthAdjust="spacingAndGlyphs" stroke="#000" stroke-width="0.16"><tspan dy="0.00">K</tspan><tspan dy="-3.63" font-size="4.90">b</tspan><tspan dy="3.63">/OVAp-Tet</tspan><tspan dy="-3.63" font-size="4.90">+</tspan><tspan dy="3.63">CD8</tspan><tspan dy="-3.63" font-size="4.90">+</tspan><tspan dy="3.63"> T cells</tspan></text>
<text x="0" y="0" transform="translate(367.50,250.65) rotate(-90)" font-size="7.9" font-weight="bold" font-family='"Liberation Sans", sans-serif' text-anchor="middle" textLength="48.30" lengthAdjust="spacingAndGlyphs" stroke="#000" stroke-width="0.16"><tspan dy="0.00">(X10</tspan><tspan dy="-3.63" font-size="4.90">5</tspan><tspan dy="3.63">/spleen)</tspan></text>
<rect x="47.30" y="363.80" width="164.60" height="144.65" fill="none" stroke="#7c7c7c" stroke-width="1.2"/>
<line x1="45.10" y1="508.45" x2="47.30" y2="508.45" stroke="#7c7c7c" stroke-width="1"/>
<text x="35.91" y="511.67" font-size="9.0" font-weight="normal" fill="#111" font-family='"Liberation Sans", sans-serif' stroke="#111" stroke-width="0.18">0</text>
<line x1="45.10" y1="479.52" x2="47.30" y2="479.52" stroke="#7c7c7c" stroke-width="1"/>
<text x="30.92" y="482.74" font-size="9.0" font-weight="normal" fill="#111" font-family='"Liberation Sans", sans-serif' stroke="#111" stroke-width="0.18">20</text>
<line x1="45.10" y1="450.59" x2="47.30" y2="450.59" stroke="#7c7c7c" stroke-width="1"/>
<text x="30.92" y="453.81" font-size="9.0" font-weight="normal" fill="#111" font-family='"Liberation Sans", sans-serif' stroke="#111" stroke-width="0.18">40</text>
<line x1="45.10" y1="421.66" x2="47.30" y2="421.66" stroke="#7c7c7c" stroke-width="1"/>
<text x="30.92" y="424.88" font-size="9.0" font-weight="normal" fill="#111" font-family='"Liberation Sans", sans-serif' stroke="#111" stroke-width="0.18">60</text>
<line x1="45.10" y1="392.73" x2="47.30" y2="392.73" stroke="#7c7c7c" stroke-width="1"/>
<text x="30.92" y="395.95" font-size="9.0" font-weight="normal" fill="#111" font-family='"Liberation Sans", sans-serif' stroke="#111" stroke-width="0.18">80</text>
<line x1="45.10" y1="363.80" x2="47.30" y2="363.80" stroke="#7c7c7c" stroke-width="1"/>
<text x="25.92" y="367.02" font-size="9.0" font-weight="normal" fill="#111" font-family='"Liberation Sans", sans-serif' stroke="#111" stroke-width="0.18">100</text>
<line x1="66.60" y1="461.58" x2="66.60" y2="467.66" stroke="#707070" stroke-width="1.0"/>
<line x1="64.60" y1="461.88" x2="68.60" y2="461.88" stroke="#404040" stroke-width="1.4"/>
<rect x="59.70" y="467.66" width="13.80" height="40.79" fill="#000"/>
<line x1="83.30" y1="442.92" x2="83.30" y2="452.47" stroke="#707070" stroke-width="1.0"/>
<line x1="81.30" y1="443.22" x2="85.30" y2="443.22" stroke="#404040" stroke-width="1.4"/>
<rect x="76.90" y="452.97" width="12.80" height="55.48" fill="#b8b8b8" stroke="#5a5a5a" stroke-width="1"/>
<line x1="121.40" y1="479.52" x2="121.40" y2="486.75" stroke="#707070" stroke-width="1.0"/>
<line x1="119.40" y1="479.82" x2="123.40" y2="479.82" stroke="#404040" stroke-width="1.4"/>
<rect x="114.50" y="486.75" width="13.80" height="21.70" fill="#000"/>
<line x1="137.90" y1="478.80" x2="137.90" y2="489.79" stroke="#707070" stroke-width="1.0"/>
<line x1="135.90" y1="479.10" x2="139.90" y2="479.10" stroke="#404040" stroke-width="1.4"/>
<rect x="131.50" y="490.29" width="12.80" height="18.16" fill="#b8b8b8" stroke="#5a5a5a" stroke-width="1"/>
<line x1="176.40" y1="392.01" x2="176.40" y2="399.96" stroke="#707070" stroke-width="1.0"/>
<line x1="174.40" y1="392.31" x2="178.40" y2="392.31" stroke="#404040" stroke-width="1.4"/>
<rect x="169.50" y="399.96" width="13.80" height="108.49" fill="#000"/>
<line x1="193.00" y1="392.73" x2="193.00" y2="405.75" stroke="#707070" stroke-width="1.0"/>
<line x1="191.00" y1="393.03" x2="195.00" y2="393.03" stroke="#404040" stroke-width="1.4"/>
<rect x="186.60" y="406.25" width="12.80" height="102.20" fill="#b8b8b8" stroke="#5a5a5a" stroke-width="1"/>
<line x1="75.00" y1="508.45" x2="75.00" y2="510.45" stroke="#7c7c7c" stroke-width="1"/>
<line x1="129.60" y1="508.45" x2="129.60" y2="510.45" stroke="#7c7c7c" stroke-width="1"/>
<line x1="184.70" y1="508.45" x2="184.70" y2="510.45" stroke="#7c7c7c" stroke-width="1"/>
<text x="72.34" y="523.40" font-size="9.2" font-weight="bold" fill="#000" font-family='"Liberation Sans", sans-serif' stroke="#000" stroke-width="0.16">3</text>
<text x="126.97" y="523.40" font-size="9.2" font-weight="bold" fill="#000" font-family='"Liberation Sans", sans-serif' stroke="#000" stroke-width="0.16">7</text>
<text x="179.42" y="523.40" font-size="9.2" font-weight="bold" fill="#000" font-family='"Liberation Sans", sans-serif' stroke="#000" stroke-width="0.16">14</text>
<text x="82.04" y="541.80" font-size="10.2" font-weight="bold" fill="#000" font-family='"Liberation Sans", sans-serif' textLength="94.77" lengthAdjust="spacingAndGlyphs" stroke="#000" stroke-width="0.16">Days post-infection</text>
<text x="0" y="0" transform="translate(16.70,478.06) rotate(-90)" font-size="10.0" font-weight="bold" font-family='"Liberation Sans", sans-serif' textLength="82.71" lengthAdjust="spacingAndGlyphs" stroke="#000" stroke-width="0.16">Relative % killing</text>
<rect x="53.60" y="371.50" width="20.10" height="9.20" fill="#000" stroke="#555" stroke-width="1"/>
<rect x="53.60" y="383.70" width="20.10" height="9.50" fill="#b8b8b8" stroke="#555" stroke-width="1"/>
<text x="78.61" y="379.60" font-size="9.05" font-weight="bold" fill="#000" font-family='"Liberation Sans", sans-serif' textLength="38.14" lengthAdjust="spacingAndGlyphs" stroke="#000" stroke-width="0.16">Beijing-1</text>
<text x="78.61" y="391.70" font-size="9.05" font-weight="bold" fill="#000" font-family='"Liberation Sans", sans-serif' textLength="44.83" lengthAdjust="spacingAndGlyphs" stroke="#000" stroke-width="0.16">Nakayama</text>
<rect x="298.50" y="363.50" width="165.30" height="144.30" fill="none" stroke="#7c7c7c" stroke-width="1.2"/>
<line x1="296.30" y1="507.80" x2="298.50" y2="507.80" stroke="#7c7c7c" stroke-width="1"/>
<text x="287.37" y="511.02" font-size="9.0" font-weight="normal" fill="#111" font-family='"Liberation Sans", sans-serif' stroke="#111" stroke-width="0.18">0</text>
<line x1="296.30" y1="483.75" x2="298.50" y2="483.75" stroke="#7c7c7c" stroke-width="1"/>
<text x="282.37" y="486.97" font-size="9.0" font-weight="normal" fill="#111" font-family='"Liberation Sans", sans-serif' stroke="#111" stroke-width="0.18">20</text>
<line x1="296.30" y1="459.70" x2="298.50" y2="459.70" stroke="#7c7c7c" stroke-width="1"/>
<text x="282.37" y="462.92" font-size="9.0" font-weight="normal" fill="#111" font-family='"Liberation Sans", sans-serif' stroke="#111" stroke-width="0.18">40</text>
<line x1="296.30" y1="435.65" x2="298.50" y2="435.65" stroke="#7c7c7c" stroke-width="1"/>
<text x="282.37" y="438.87" font-size="9.0" font-weight="normal" fill="#111" font-family='"Liberation Sans", sans-serif' stroke="#111" stroke-width="0.18">60</text>
<line x1="296.30" y1="411.60" x2="298.50" y2="411.60" stroke="#7c7c7c" stroke-width="1"/>
<text x="282.37" y="414.82" font-size="9.0" font-weight="normal" fill="#111" font-family='"Liberation Sans", sans-serif' stroke="#111" stroke-width="0.18">80</text>
<line x1="296.30" y1="387.55" x2="298.50" y2="387.55" stroke="#7c7c7c" stroke-width="1"/>
<text x="277.38" y="390.77" font-size="9.0" font-weight="normal" fill="#111" font-family='"Liberation Sans", sans-serif' stroke="#111" stroke-width="0.18">100</text>
<line x1="296.30" y1="363.50" x2="298.50" y2="363.50" stroke="#7c7c7c" stroke-width="1"/>
<text x="277.38" y="366.72" font-size="9.0" font-weight="normal" fill="#111" font-family='"Liberation Sans", sans-serif' stroke="#111" stroke-width="0.18">120</text>
<line x1="319.30" y1="390.32" x2="319.30" y2="398.37" stroke="#707070" stroke-width="1.0"/>
<line x1="316.90" y1="390.62" x2="321.70" y2="390.62" stroke="#404040" stroke-width="1.4"/>
<rect x="308.90" y="398.37" width="20.80" height="109.43" fill="#000"/>
<line x1="360.60" y1="391.52" x2="360.60" y2="405.59" stroke="#707070" stroke-width="1.0"/>
<line x1="358.20" y1="391.82" x2="363.00" y2="391.82" stroke="#404040" stroke-width="1.4"/>
<rect x="350.20" y="405.59" width="20.80" height="102.21" fill="#000"/>
<line x1="401.80" y1="446.11" x2="401.80" y2="462.11" stroke="#707070" stroke-width="1.0"/>
<line x1="399.40" y1="446.41" x2="404.20" y2="446.41" stroke="#404040" stroke-width="1.4"/>
<rect x="391.40" y="462.11" width="20.80" height="45.69" fill="#000"/>
<line x1="442.70" y1="376.73" x2="442.70" y2="387.55" stroke="#707070" stroke-width="1.0"/>
<line x1="440.30" y1="377.03" x2="445.10" y2="377.03" stroke="#404040" stroke-width="1.4"/>
<rect x="432.30" y="387.55" width="20.80" height="120.25" fill="#000"/>
<line x1="319.30" y1="507.80" x2="319.30" y2="509.80" stroke="#7c7c7c" stroke-width="1"/>
<line x1="360.60" y1="507.80" x2="360.60" y2="509.80" stroke="#7c7c7c" stroke-width="1"/>
<line x1="401.80" y1="507.80" x2="401.80" y2="509.80" stroke="#7c7c7c" stroke-width="1"/>
<line x1="442.70" y1="507.80" x2="442.70" y2="509.80" stroke="#7c7c7c" stroke-width="1"/>
<text x="309.46" y="523.00" font-size="9.0" font-weight="bold" fill="#000" font-family='"Liberation Sans", sans-serif' stroke="#000" stroke-width="0.16">Heat</text>
<text x="354.08" y="523.00" font-size="9.0" font-weight="bold" fill="#000" font-family='"Liberation Sans", sans-serif' stroke="#000" stroke-width="0.16">UV</text>
<text x="392.62" y="523.00" font-size="9.0" font-weight="bold" fill="#000" font-family='"Liberation Sans", sans-serif' stroke="#000" stroke-width="0.16">Live</text>
<text x="431.06" y="523.00" font-size="9.0" font-weight="bold" fill="#000" font-family='"Liberation Sans", sans-serif' stroke="#000" stroke-width="0.16">Mock</text>
<line x1="306.30" y1="528.70" x2="374.10" y2="528.70" stroke="#8a8a8a" stroke-width="1.3"/>
<text x="303.04" y="543.80" font-size="10.2" font-weight="bold" fill="#000" font-family='"Liberation Sans", sans-serif' textLength="75.35" lengthAdjust="spacingAndGlyphs" stroke="#000" stroke-width="0.16">Inactivated JEV</text>
<text x="0" y="0" transform="translate(269.60,478.25) rotate(-90)" font-size="10.0" font-weight="bold" font-family='"Liberation Sans", sans-serif' textLength="82.00" lengthAdjust="spacingAndGlyphs" stroke="#000" stroke-width="0.16">Relative % killing</text>
<polyline points="401.4,411.3 401.4,373.7 442.6,373.7" fill="none" stroke="#a5a5a5" stroke-width="1.1"/>
<path d="M417.80,368.12L417.80,371.27M416.44,368.91L419.16,370.49M416.44,370.49L419.16,368.91" stroke="#1e1e1e" stroke-width="1.0" stroke-linecap="round"/>
<circle cx="417.80" cy="369.70" r="0.96" fill="#1e1e1e"/>
<path d="M423.20,368.12L423.20,371.27M421.84,368.91L424.56,370.49M421.84,370.49L424.56,368.91" stroke="#1e1e1e" stroke-width="1.0" stroke-linecap="round"/>
<circle cx="423.20" cy="369.70" r="0.96" fill="#1e1e1e"/>
<path d="M428.60,368.12L428.60,371.27M427.24,368.91L429.96,370.49M427.24,370.49L429.96,368.91" stroke="#1e1e1e" stroke-width="1.0" stroke-linecap="round"/>
<circle cx="428.60" cy="369.70" r="0.96" fill="#1e1e1e"/>
<text x="49.99" y="8.30" font-size="10.1" font-weight="bold" font-family='"Liberation Serif", serif' stroke="#000" stroke-width="0.25">VVgB<tspan font-size="6.6" dx="0.6" dy="2.3">498-505</tspan></text>
<text x="215.89" y="10.20" font-size="10.1" font-weight="bold" font-family='"Liberation Serif", serif' stroke="#000" stroke-width="0.25">VVova<tspan font-size="6.6" dx="0.6" dy="1.9">257-264</tspan></text>
<text x="393.21" y="11.80" font-size="9.9" font-weight="bold" font-family='"Liberation Serif", serif' stroke="#000" stroke-width="0.25">VVova<tspan font-size="6.6" dx="0.6" dy="2.0">257-264</tspan></text>
<text x="1.04" y="10.50" font-size="12.0" font-weight="normal" fill="#000" font-family='"Liberation Sans", sans-serif' stroke="#111" stroke-width="0.18">A</text>
<text x="353.64" y="9.80" font-size="12.0" font-weight="normal" fill="#000" font-family='"Liberation Sans", sans-serif' stroke="#111" stroke-width="0.18">B</text>
<text x="0.50" y="369.60" font-size="12.0" font-weight="normal" fill="#000" font-family='"Liberation Sans", sans-serif' stroke="#111" stroke-width="0.18">C</text>
<text x="252.14" y="369.10" font-size="12.0" font-weight="normal" fill="#000" font-family='"Liberation Sans", sans-serif' stroke="#111" stroke-width="0.18">D</text>
</svg></body></html>
